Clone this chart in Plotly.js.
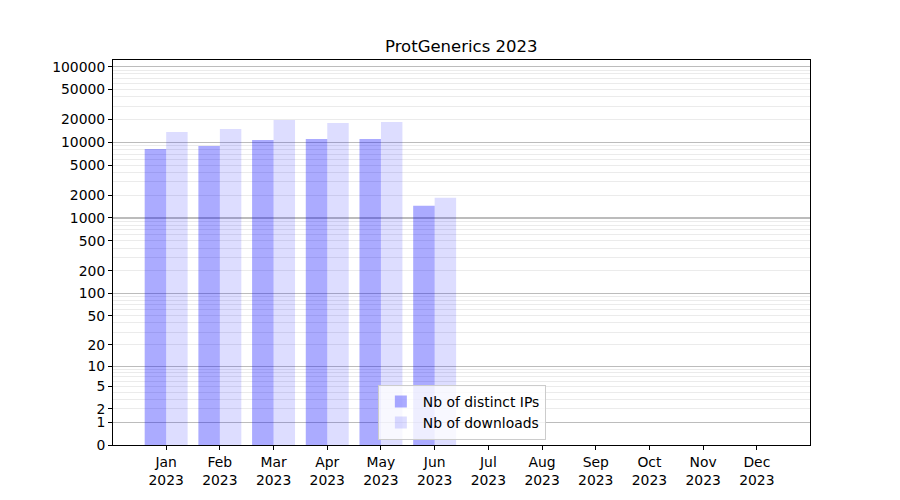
<!DOCTYPE html>
<html>
<head>
<meta charset="utf-8">
<script src="https://cdn.plot.ly/plotly-3.0.1.min.js"></script>
<style>html,body{margin:0;padding:0;background:#fff;}#chart{width:900px;height:500px;}</style>
</head>
<body>
<div id="chart"></div>
<script>
const chartTitle = "ProtGenerics 2023";
const months = ["Jan","Feb","Mar","Apr","May","Jun","Jul","Aug","Sep","Oct","Nov","Dec"];
const year = "2023";
const distinctIPs = [8170, 8950, 10740, 11080, 11080, 1455, 0, 0, 0, 0, 0, 0];
const downloads = [13700, 15020, 19750, 18030, 18580, 1856, 0, 0, 0, 0, 0, 0];
const seriesNames = ["Nb of distinct IPs", "Nb of downloads"];
const yTickValues = [0, 1, 2, 5, 10, 20, 50, 100, 200, 500, 1000, 2000, 5000, 10000, 20000, 50000, 100000];
const majorGrid = [1, 10, 100, 1000, 10000, 100000];

// y scale: log10(1 + y), as in the reference
const f = v => Math.log10(1 + v);
const xs = months.map((m, i) => i);
const minorGrid = [];
for (let d = 1; d <= 10000; d *= 10) for (let k = 2; k <= 9; k++) minorGrid.push(f(k * d));

const yTop = 5.088;
const xPad = 0.05 * (months.length - 1 + 0.8);
const font = {family: "DejaVu Sans", size: 13.9, color: "#000"};

const traces = [
  {type: "bar", x: xs, y: distinctIPs.map(f), name: seriesNames[0],
   marker: {color: "rgba(0,0,255,0.33)", line: {width: 0}}, hoverinfo: "skip"},
  {type: "bar", x: xs, y: downloads.map(f), name: seriesNames[1],
   marker: {color: "rgba(0,0,255,0.135)", line: {width: 0}}, hoverinfo: "skip"},
  {type: "scatter", x: [], y: [], yaxis: "y2", showlegend: false, hoverinfo: "skip"}
];

const layout = {
  width: 900, height: 500,
  paper_bgcolor: "#fff", plot_bgcolor: "#fff",
  margin: {l: 113, r: 90, t: 60, b: 55},
  font: font,
  title: {text: chartTitle, font: {family: "DejaVu Sans", size: 16.5, color: "#000"},
          x: 0.5125, xanchor: "center", y: 0.908, yanchor: "middle"},
  barmode: "group", bargap: 0.2, bargroupgap: 0,
  xaxis: {range: [-0.4 - xPad, months.length - 1 + 0.4 + xPad],
          tickmode: "array", tickvals: xs, ticktext: months.map(m => m + "<br>" + year),
          ticks: "outside", ticklen: 4, tickcolor: "#000", tickwidth: 1,
          showgrid: false, zeroline: false, showline: true, mirror: true,
          linecolor: "#000", linewidth: 1, tickfont: font},
  yaxis: {range: [0, yTop], tickmode: "array", tickvals: majorGrid.map(f),
          showticklabels: false, ticks: "", showgrid: true, gridcolor: "#bcbcbc", gridwidth: 1.2,
          minor: {tickmode: "array", tickvals: minorGrid, showgrid: true, gridcolor: "#ebebeb", gridwidth: 1, ticks: ""},
          zeroline: false, showline: true, mirror: true, linecolor: "#000", linewidth: 1},
  yaxis2: {overlaying: "y", side: "left", range: [0, yTop], tickmode: "array",
           tickvals: yTickValues.map(f), ticktext: yTickValues.map(String),
           ticks: "outside", ticklen: 4, tickcolor: "#000", tickwidth: 1,
           showgrid: false, zeroline: false, showline: false, tickfont: font},
  legend: {x: 0.380, y: 0.013, xanchor: "left", yanchor: "bottom",
           bgcolor: "rgba(255,255,255,0.8)", bordercolor: "#cccccc", borderwidth: 1,
           font: font, tracegroupgap: 0, itemwidth: 34}
};

Plotly.newPlot("chart", traces, layout, {displayModeBar: false, staticPlot: true});
</script>
</body>
</html>
